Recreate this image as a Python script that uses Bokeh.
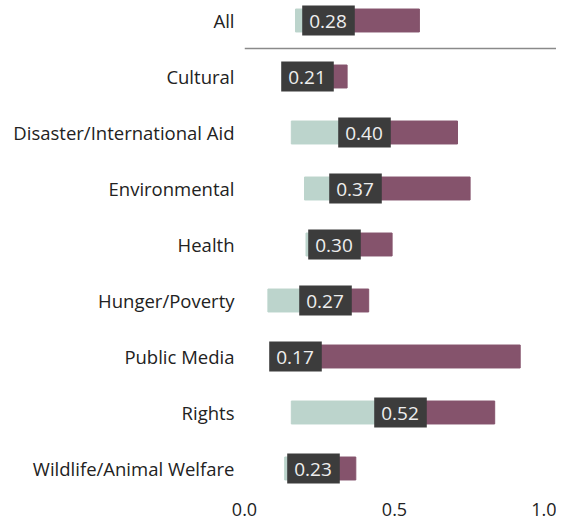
from bokeh.plotting import figure
from bokeh.models import Range1d, FixedTicker, Span, ColumnDataSource
from bokeh.core.properties import value
from bokeh.embed import file_html
from bokeh.resources import INLINE

categories = ["All", "Cultural", "Disaster/International Aid", "Environmental", "Health",
              "Hunger/Poverty", "Public Media", "Rights", "Wildlife/Animal Welfare"]
medians = [0.28, 0.21, 0.40, 0.37, 0.30, 0.27, 0.17, 0.52, 0.23]
lows = [0.17, 0.15, 0.156, 0.20, 0.205, 0.078, 0.088, 0.156, 0.134]
highs = [0.583, 0.342, 0.71, 0.752, 0.492, 0.414, 0.919, 0.834, 0.371]
x_ticks = [0.0, 0.5, 1.0]
x_tick_labels = ["0.0", "0.5", "1.0"]

FONT = "Open Sans"
pos = list(range(len(categories)))
src = ColumnDataSource(dict(
    y=pos, low=lows, med=medians, high=highs,
    label=["%.2f" % m for m in medians],
))

W, H = 556, 521
p = figure(width=W, height=H, output_backend="svg", toolbar_location=None,
           x_range=Range1d(0, 312 / 300), y_range=Range1d(470 / 56, -20 / 56),
           min_border_left=244, min_border_right=0, min_border_top=0, min_border_bottom=31)
p.outline_line_color = None
p.xgrid.visible = False
p.ygrid.visible = False
p.background_fill_color = "white"
p.border_fill_color = "white"

p.hbar(y="y", left="low", right="med", height=0.41, source=src, color="#bcd4cc")
p.hbar(y="y", left="med", right="high", height=0.41, source=src, color="#85536c")
p.text(x="med", y="y", text="label", source=src, text_align="center", text_baseline="middle",
       text_font=value(FONT), text_font_size="19px", text_color="#eeeeee",
       background_fill_color="#3c3c3c", padding=dict(left=7, right=8, top=9, bottom=8))

p.add_layout(Span(location=0.5, dimension="width", line_color="#8a8a8a", line_width=1.6))

ya = p.yaxis[0]
ya.ticker = FixedTicker(ticks=pos)
ya.major_label_overrides = {i: c for i, c in zip(pos, categories)}
ya.axis_line_color = None
ya.major_tick_line_color = None
ya.minor_tick_line_color = None
ya.major_label_standoff = 4
ya.major_label_text_font = FONT
ya.major_label_text_font_size = "18.5px"
ya.major_label_text_color = "#222222"

xa = p.xaxis[0]
xa.ticker = FixedTicker(ticks=x_ticks)
xa.major_label_overrides = {t: l for t, l in zip(x_ticks, x_tick_labels)}
xa.axis_line_color = None
xa.major_tick_line_color = None
xa.minor_tick_line_color = None
xa.major_label_standoff = 6
xa.major_label_text_font = FONT
xa.major_label_text_font_size = "18px"
xa.major_label_text_color = "#222222"

open("out.html", "w").write(file_html(p, INLINE))
